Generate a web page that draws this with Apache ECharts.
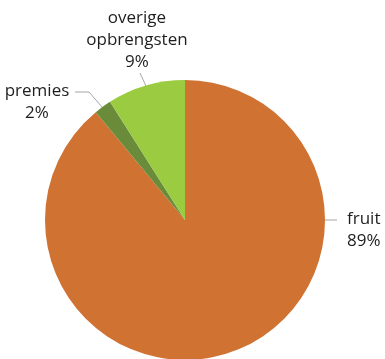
<!DOCTYPE html>
<html>
<head>
<meta charset="utf-8">
<script src="https://cdn.jsdelivr.net/npm/echarts@6/dist/echarts.min.js"></script>
<style>
  html, body { margin: 0; padding: 0; background: #fff; }
  #chart { width: 385px; height: 359px; }
</style>
</head>
<body>
<div id="chart"></div>
<script>
// Revenue shares
const categories = ['fruit', 'premies', 'overige\nopbrengsten'];
const shares = [89, 2, 9];
const colors = ['#D07232', '#6A8B3A', '#9BCB41'];

// Label anchor and leader-line placement per slice
const labelPlacement = [
  { x: 347, y: 230, align: 'left', line: [[325, 220], [337, 220], [337, 220]] },
  { x: 37, y: 102, align: 'center', line: [[102, 107], [89, 92], [75, 92]] },
  { x: 137, y: 40, align: 'center', line: [[146, 86], [140, 73], [140, 73]] }
];

const chart = echarts.init(document.getElementById('chart'), null, { renderer: 'canvas' });
chart.setOption({
  animation: false,
  series: [{
    type: 'pie',
    center: [185, 220],
    radius: 140,
    startAngle: 90,
    clockwise: true,
    percentPrecision: 0,
    avoidLabelOverlap: false,
    data: categories.map((name, i) => ({
      name: name,
      value: shares[i],
      itemStyle: { color: colors[i] }
    })),
    label: {
      show: true,
      formatter: '{b}\n{d}%',
      fontFamily: 'Open Sans',
      fontSize: 17,
      lineHeight: 22,
      color: '#1e1e1e'
    },
    labelLine: {
      show: true,
      lineStyle: { color: '#A6A6A6', width: 1 }
    },
    labelLayout: function (params) {
      const p = labelPlacement[params.dataIndex];
      return {
        x: p.x,
        y: p.y,
        align: p.align,
        verticalAlign: 'middle',
        labelLinePoints: p.line
      };
    }
  }]
});
</script>
</body>
</html>
